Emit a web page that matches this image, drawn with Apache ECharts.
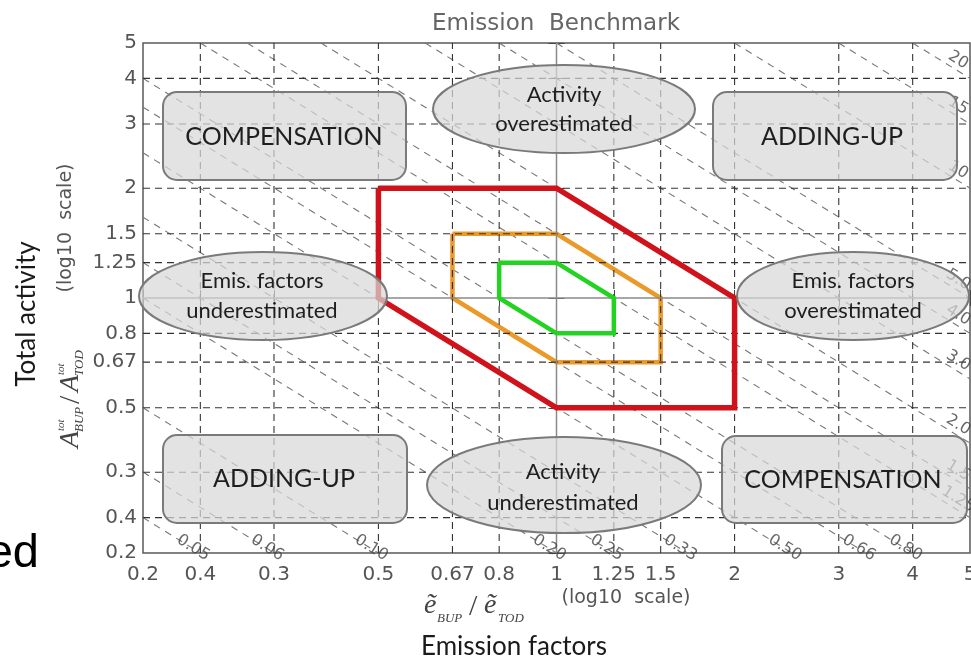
<!DOCTYPE html>
<html><head><meta charset="utf-8">
<script src="https://cdn.jsdelivr.net/npm/echarts@6/dist/echarts.min.js"></script>
<style>html,body{margin:0;padding:0;background:#fff}#c{width:971px;height:660px}</style>
</head><body><div id="c"></div>
<script>
// ---------- data ----------
const tickValues = [0.2, 0.25, 0.333, 0.5, 0.667, 0.8, 1, 1.25, 1.5, 2, 3, 4, 5];
const xTickLabels = ['0.2', '0.4', '0.3', '0.5', '0.67', '0.8', '1', '1.25', '1.5', '2', '3', '4', '5'];
const yTickLabels = ['0.2', '0.4', '0.3', '0.5', '0.67', '0.8', '1', '1.25', '1.5', '2', '3', '4', '5'];
const gridValues = [0.25, 0.333, 0.5, 0.667, 0.8, 1.25, 1.5, 2, 3, 4];
const isoRatios = [0.05, 0.0667, 0.1, 0.2, 0.25, 0.333, 0.5, 0.667, 0.8, 1.25, 1.5, 2, 3, 4, 5, 10, 15, 20];
const isoLabels = ['0.05', '0.06', '0.10', '0.20', '0.25', '0.33', '0.50', '0.66', '0.80', '1.25', '1.5', '2.0', '3.0', '4.0', '5.0', '10', '15', '20'];
const redHex = [[0.5, 2], [1, 2], [2, 1], [2, 0.5], [1, 0.5], [0.5, 1], [0.5, 2]];
const orangeHex = [[0.667, 1.5], [1, 1.5], [1.5, 1], [1.5, 0.667], [1, 0.667], [0.667, 1], [0.667, 1.5]];
const greenHex = [[0.8, 1.25], [1, 1.25], [1.25, 1], [1.25, 0.8], [1, 0.8], [0.8, 1], [0.8, 1.25]];
const boxLabels = ['COMPENSATION', 'ADDING-UP', 'ADDING-UP', 'COMPENSATION'];
const ellipseLabels = [['Activity', 'overestimated'], ['Emis. factors', 'underestimated'], ['Emis. factors', 'overestimated'], ['Activity', 'underestimated']];
const titleText = 'Emission  Benchmark';
const xName = 'Emission factors';
const yName = 'Total activity';
const scaleNote = '(log10  scale)';

// ---------- helpers ----------
const L = v => Math.log10(v);
const xMin = 0.2, xMax = 5, yMin = 0.2, yMax = 5;
const ticksL = tickValues.map(L);
function tickLabel(v, labels) {
  let best = 0, bd = 1e9;
  ticksL.forEach((t, i) => { const d = Math.abs(t - v); if (d < bd) { bd = d; best = i; } });
  return labels[best];
}
const lineBase = { type: 'line', symbol: 'none', silent: true, emphasis: { disabled: true }, xAxisIndex: 0, yAxisIndex: 0 };

const series = [];
// iso-ratio diagonals
isoRatios.forEach(c => {
  const x0 = Math.max(xMin, c / yMax), x1 = Math.min(xMax, c / yMin);
  series.push(Object.assign({}, lineBase, {
    data: [[L(x0), L(c / x0)], [L(x1), L(c / x1)]],
    lineStyle: { color: '#777', width: 1.1, type: [7, 6] }, z: 1
  }));
});
// orange hexagon (under grid)
series.push(Object.assign({}, lineBase, { data: orangeHex.map(p => [L(p[0]), L(p[1])]), lineStyle: { color: '#eb9a2a', width: 4.5, join: 'miter' }, z: 2 }));
// dashed grid
gridValues.forEach(v => {
  series.push(Object.assign({}, lineBase, { data: [[L(v), L(yMin)], [L(v), L(yMax)]], lineStyle: { color: '#333', width: 1.1, type: [7, 5] }, z: 3 }));
  series.push(Object.assign({}, lineBase, { data: [[L(xMin), L(v)], [L(xMax), L(v)]], lineStyle: { color: '#333', width: 1.1, type: [7, 5] }, z: 3 }));
});
// solid lines at 1
series.push(Object.assign({}, lineBase, { data: [[L(1), L(yMin)], [L(1), L(yMax)]], lineStyle: { color: '#8a8a8a', width: 1.5 }, z: 3 }));
series.push(Object.assign({}, lineBase, { data: [[L(xMin), L(1)], [L(xMax), L(1)]], lineStyle: { color: '#8a8a8a', width: 1.5 }, z: 3 }));
// green and red hexagons
series.push(Object.assign({}, lineBase, { data: greenHex.map(p => [L(p[0]), L(p[1])]), lineStyle: { color: '#22d322', width: 4.5, join: 'miter' }, z: 4 }));
series.push(Object.assign({}, lineBase, { data: redHex.map(p => [L(p[0]), L(p[1])]), lineStyle: { color: '#d0121b', width: 5.5, join: 'miter' }, z: 4 }));
// iso labels
const isoLabelData = isoRatios.map((c, i) => {
  let pos;
  if (c < 1) pos = [L(c / yMin) - 0.012, L(yMin) + 0.014];
  else pos = [L(xMax) - 0.02, L(c / xMax) + 0.05];
  return { value: pos, name: isoLabels[i] };
});
series.push({
  type: 'scatter', data: isoLabelData, symbolSize: 0, silent: true, z: 5, clip: false,
  label: { show: true, position: 'inside', formatter: '{b}', rotate: -31.66, color: '#444', fontSize: 16, fontFamily: 'DejaVu Sans' }
});

// ---------- annotations (layout) ----------
const shapeStyle = { fill: 'rgba(216,216,216,0.72)', stroke: '#7a7a7a', lineWidth: 2 };
const rects = [[163, 92, 243, 88], [713, 92, 244, 88], [163, 435, 244, 88], [722, 436, 245, 87]];
const rectText = [[284, 137], [832, 137], [284, 479], [843, 480]];
const ellipses = [[564, 109, 131, 44], [263, 296, 124, 44], [853, 296, 116, 44], [564, 485, 137, 48]];
const ellText = [[564, 95, 124], [262, 281, 311], [853, 281, 311], [563, 472, 503]];
const graphic = [];
rects.forEach((r, i) => {
  graphic.push({ type: 'rect', z: 100, shape: { x: r[0], y: r[1], width: r[2], height: r[3], r: 14 }, style: shapeStyle, silent: true });
  graphic.push({ type: 'text', z: 101, x: rectText[i][0], y: rectText[i][1], style: { text: boxLabels[i], fill: '#1e1e1e', font: '25px Lato', align: 'center', verticalAlign: 'middle' }, silent: true });
});
ellipses.forEach((e, i) => {
  graphic.push({ type: 'ellipse', z: 100, shape: { cx: e[0], cy: e[1], rx: e[2], ry: e[3] }, style: shapeStyle, silent: true });
  graphic.push({ type: 'text', z: 101, x: ellText[i][0], y: ellText[i][1], style: { text: ellipseLabels[i][0], fill: '#1e1e1e', font: '22px Lato', align: 'center', verticalAlign: 'middle' }, silent: true });
  graphic.push({ type: 'text', z: 101, x: ellText[i][0], y: ellText[i][2], style: { text: ellipseLabels[i][1], fill: '#1e1e1e', font: '22px Lato', align: 'center', verticalAlign: 'middle' }, silent: true });
});
// title
graphic.push({ type: 'text', z: 101, x: 556, y: 24, style: { text: titleText, fill: '#666', font: '23px "DejaVu Sans"', align: 'center', verticalAlign: 'middle' } });
// x axis names
const serifI = 'italic 28px "Liberation Serif"', subI = 'italic 13px "Liberation Serif"';
graphic.push({ type: 'text', z: 101, x: 424, y: 606, style: { text: 'ẽ', fill: '#444', font: serifI, align: 'left', verticalAlign: 'middle' } });
graphic.push({ type: 'text', z: 101, x: 437, y: 619, style: { text: 'BUP', fill: '#444', font: subI, align: 'left', verticalAlign: 'middle' } });
graphic.push({ type: 'text', z: 101, x: 469, y: 607, style: { text: '/', fill: '#444', font: '30px "Liberation Serif"', align: 'left', verticalAlign: 'middle' } });
graphic.push({ type: 'text', z: 101, x: 484, y: 606, style: { text: 'ẽ', fill: '#444', font: serifI, align: 'left', verticalAlign: 'middle' } });
graphic.push({ type: 'text', z: 101, x: 498, y: 619, style: { text: 'TOD', fill: '#444', font: subI, align: 'left', verticalAlign: 'middle' } });
graphic.push({ type: 'text', z: 101, x: 626, y: 598, style: { text: scaleNote, fill: '#555', font: '19px "DejaVu Sans"', align: 'center', verticalAlign: 'middle' } });
graphic.push({ type: 'text', z: 101, x: 514, y: 647, style: { text: xName, fill: '#1a1a1a', font: '26px Lato', align: 'center', verticalAlign: 'middle' } });
// y axis names (rotated)
graphic.push({ type: 'text', z: 101, x: 27, y: 314, rotation: Math.PI / 2, style: { text: yName, fill: '#1a1a1a', font: '26px Lato', align: 'center', verticalAlign: 'middle' } });
graphic.push({ type: 'text', z: 101, x: 66, y: 228, rotation: Math.PI / 2, style: { text: scaleNote, fill: '#555', font: '19px "DejaVu Sans"', align: 'center', verticalAlign: 'middle' } });
graphic.push({
  type: 'group', z: 101, x: 70, y: 448, rotation: Math.PI / 2,
  children: [
    { type: 'text', z: 101, x: 0, y: 1, style: { text: 'A', fill: '#444', font: serifI, align: 'left', verticalAlign: 'middle' } },
    { type: 'text', z: 101, x: 17, y: -9, style: { text: 'tot', fill: '#444', font: 'italic 11px "Liberation Serif"', align: 'left', verticalAlign: 'middle' } },
    { type: 'text', z: 101, x: 16, y: 10, style: { text: 'BUP', fill: '#444', font: subI, align: 'left', verticalAlign: 'middle' } },
    { type: 'text', z: 101, x: 44, y: 1, style: { text: '/', fill: '#444', font: '30px "Liberation Serif"', align: 'left', verticalAlign: 'middle' } },
    { type: 'text', z: 101, x: 56, y: 1, style: { text: 'A', fill: '#444', font: serifI, align: 'left', verticalAlign: 'middle' } },
    { type: 'text', z: 101, x: 73, y: -9, style: { text: 'tot', fill: '#444', font: 'italic 11px "Liberation Serif"', align: 'left', verticalAlign: 'middle' } },
    { type: 'text', z: 101, x: 72, y: 10, style: { text: 'TOD', fill: '#444', font: subI, align: 'left', verticalAlign: 'middle' } }
  ]
});
// cut-off slide text
graphic.push({ type: 'text', z: 101, x: 39, y: 578, style: { text: 'ed', fill: '#000', font: '47px "Liberation Sans"', align: 'right', verticalAlign: 'bottom' } });

// ---------- chart ----------
const tickStyle = { show: true, inside: true, length: 8, customValues: ticksL, lineStyle: { color: '#444', width: 1 } };
const labelFont = { fontSize: 20, color: '#555', fontFamily: 'DejaVu Sans' };
const option = {
  animation: false,
  grid: { left: 143, top: 43, width: 827, height: 510, outerBoundsMode: 'none', containLabel: false, show: true, borderColor: '#5a5a5a', borderWidth: 1.5, backgroundColor: '#fff' },
  xAxis: [
    { type: 'value', min: L(xMin), max: L(xMax), position: 'bottom', axisLine: { show: false }, axisTick: tickStyle, splitLine: { show: false },
      axisLabel: Object.assign({ customValues: ticksL, margin: 12, showMinLabel: true, showMaxLabel: true, formatter: v => tickLabel(v, xTickLabels) }, labelFont) },
    { type: 'value', min: L(xMin), max: L(xMax), position: 'top', axisLine: { show: false }, axisTick: tickStyle, splitLine: { show: false }, axisLabel: { show: false } }
  ],
  yAxis: [
    { type: 'value', min: L(yMin), max: L(yMax), position: 'left', axisLine: { show: false }, axisTick: tickStyle, splitLine: { show: false },
      axisLabel: Object.assign({ customValues: ticksL, margin: 6, showMinLabel: true, showMaxLabel: true, formatter: v => tickLabel(v, yTickLabels) }, labelFont) },
    { type: 'value', min: L(yMin), max: L(yMax), position: 'right', axisLine: { show: false }, axisTick: tickStyle, splitLine: { show: false }, axisLabel: { show: false } }
  ],
  series: series,
  graphic: graphic
};
const chart = echarts.init(document.getElementById('c'), null, { renderer: 'canvas' });
chart.setOption(option);
</script>
</body></html>
